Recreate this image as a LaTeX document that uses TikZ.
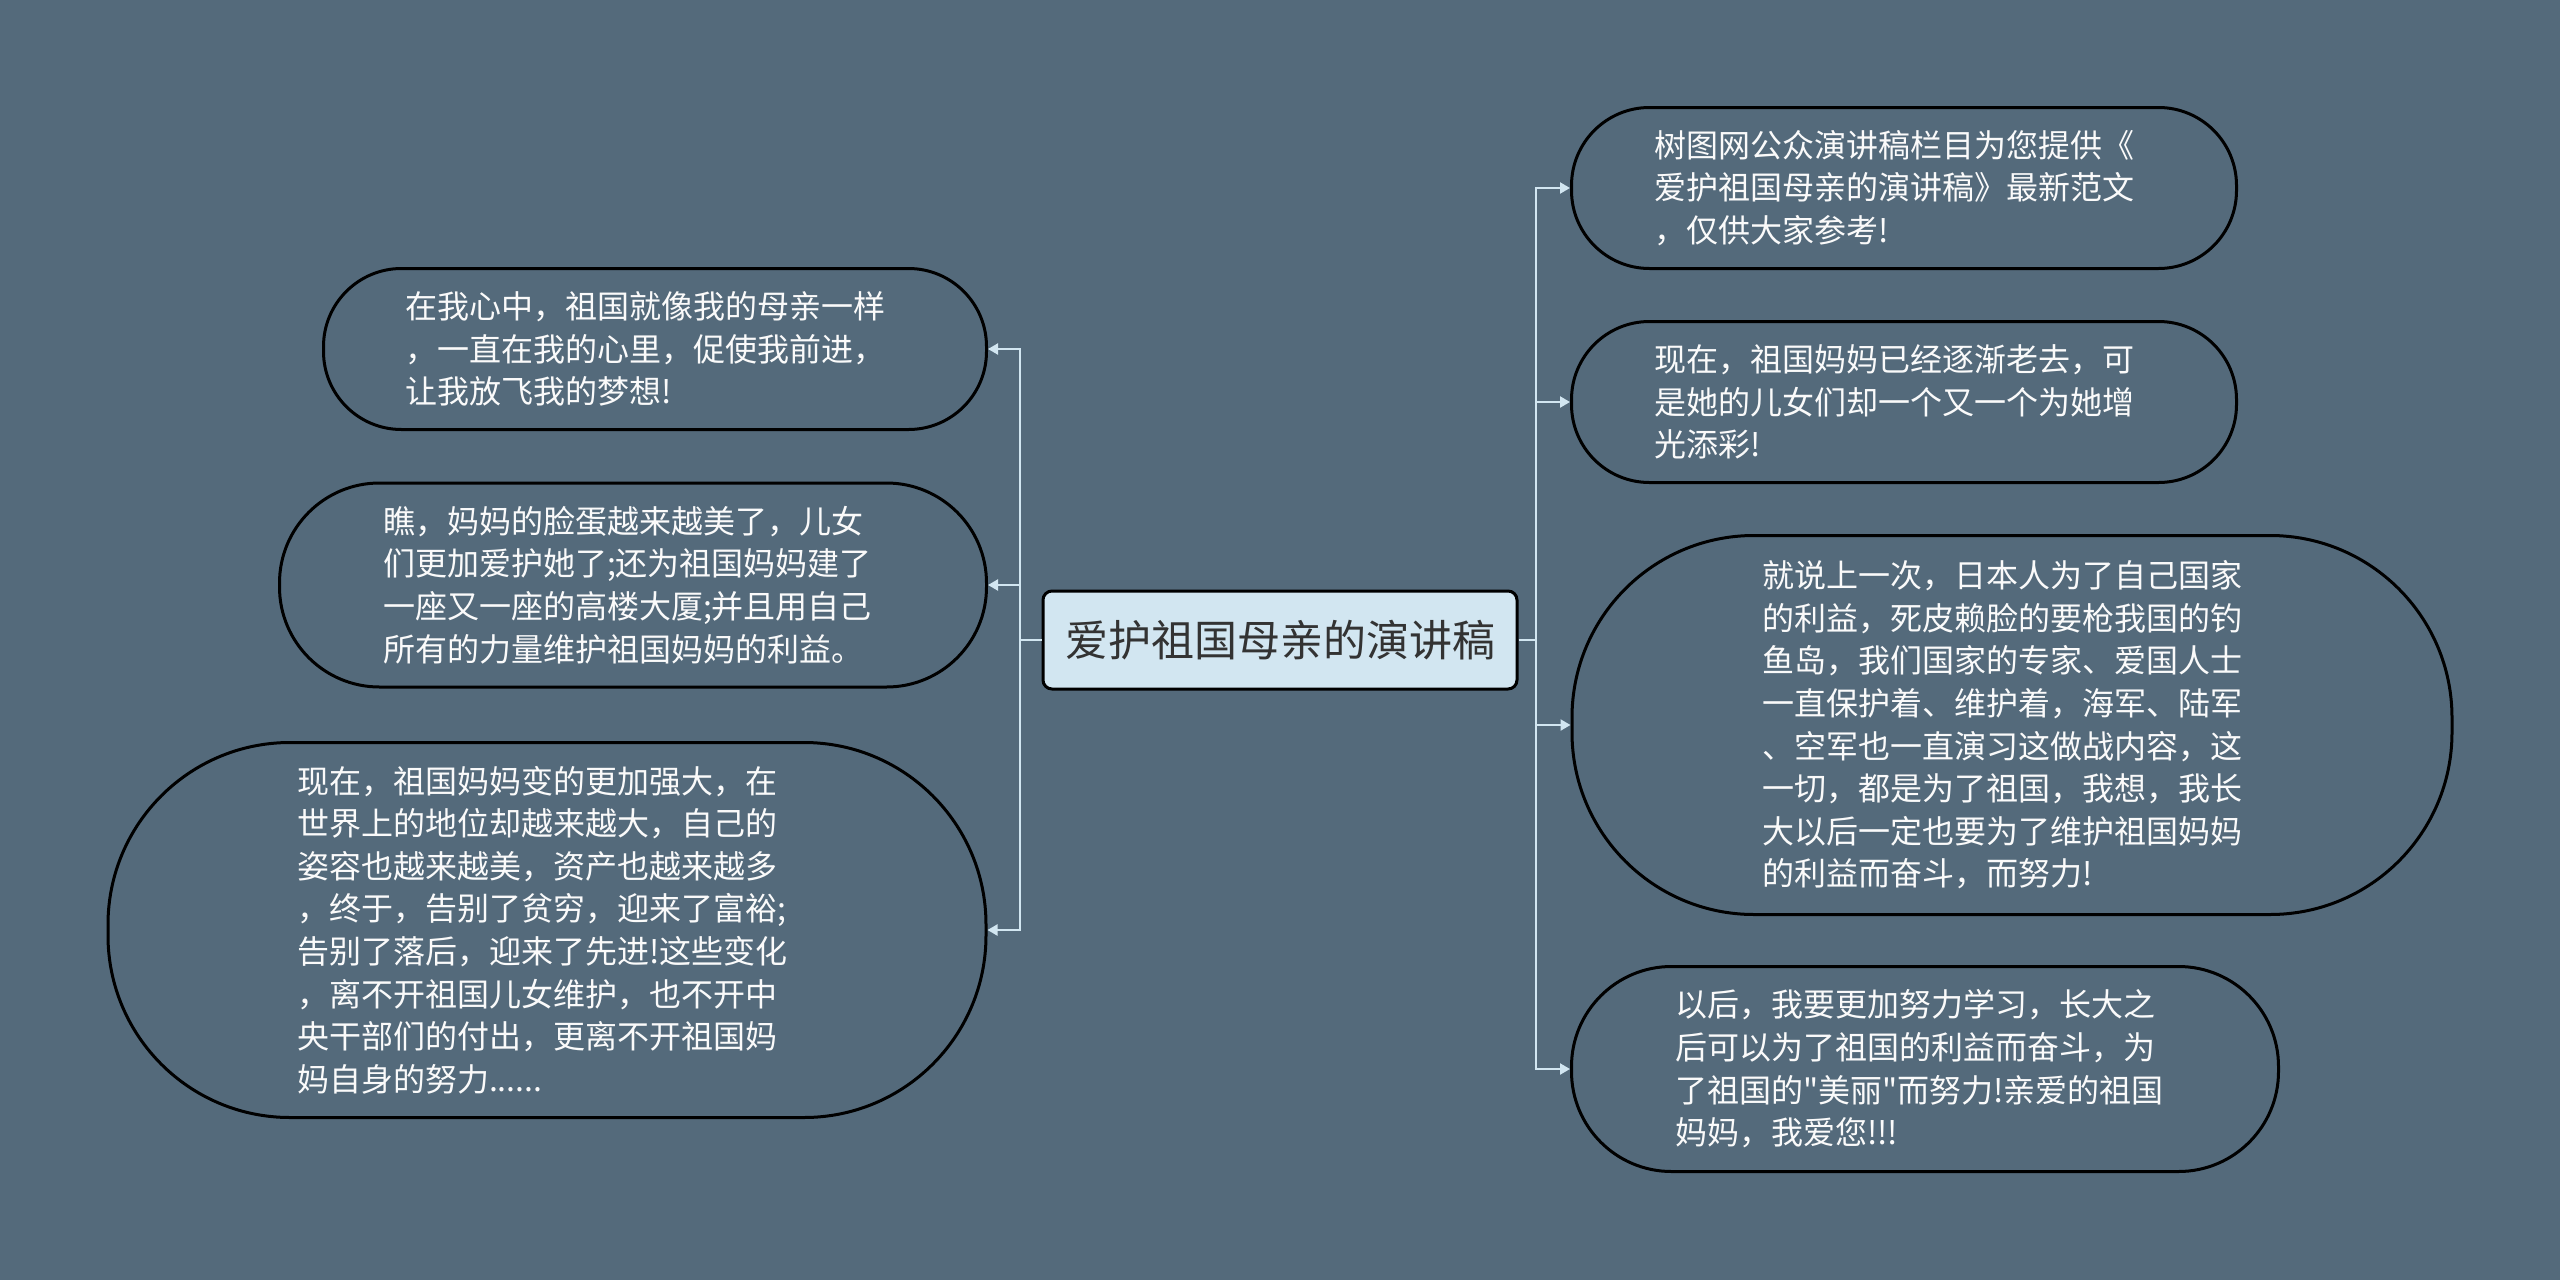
\documentclass[tikz,border=0pt]{standalone}
\usepackage{fontspec}
\setmainfont{Noto Sans CJK SC}[Ligatures=TeXOff]
\usetikzlibrary{arrows.meta}
\definecolor{bg}{HTML}{546A7B}
\definecolor{rootfill}{HTML}{D2E6F1}
\definecolor{link}{HTML}{D2E6F1}
\definecolor{txt}{HTML}{FAFAFA}
\tikzset{
  leaf/.style={draw=black, line width=3pt, fill=bg, text=txt, inner sep=0pt,
    align=left, text width=500pt, font=\fontsize{32}{42.6}\selectfont},
  rootbox/.style={draw=black, line width=3pt, fill=rootfill, text=black!80, inner sep=0pt,
    rounded corners=9pt, minimum width=474pt, minimum height=98pt,
    font=\fontsize{43}{50}\selectfont},
  conn/.style={draw=link, line width=2.2pt, -{Triangle[length=10pt,width=11pt]}},
  connplain/.style={draw=link, line width=2.2pt},
}
\begin{document}
\begin{tikzpicture}[x=1pt,y=-1pt]
\fill[bg] (0,0) rectangle (2560,1280);
\useasboundingbox (0,0) rectangle (2560,1280);

\node[rootbox] (root) at (1280,640) {爱护祖国母亲的演讲稿};

\node[leaf, minimum width=665pt, minimum height=161pt, rounded corners=78pt] (r1) at (1904,188)
 {树图网公众演讲稿栏目为您提供《\\爱护祖国母亲的演讲稿》最新范文\\，仅供大家参考!};
\node[leaf, minimum width=665pt, minimum height=161pt, rounded corners=78pt] (r2) at (1904,402)
 {现在，祖国妈妈已经逐渐老去，可\\是她的儿女们却一个又一个为她增\\光添彩!};
\node[leaf, minimum width=880pt, minimum height=379pt, rounded corners=182pt] (r3) at (2012,725)
 {就说上一次，日本人为了自己国家\\的利益，死皮赖脸的要枪我国的钓\\鱼岛，我们国家的专家、爱国人士\\一直保护着、维护着，海军、陆军\\、空军也一直演习这做战内容，这\\一切，都是为了祖国，我想，我长\\大以后一定也要为了维护祖国妈妈\\的利益而奋斗，而努力!};
\node[leaf, minimum width=707pt, minimum height=205pt, rounded corners=100pt] (r4) at (1925,1069)
 {以后，我要更加努力学习，长大之\\后可以为了祖国的利益而奋斗，为\\了祖国的"美丽"而努力!亲爱的祖国\\妈妈，我爱您!!!};

\node[leaf, minimum width=663pt, minimum height=161pt, rounded corners=78pt] (l1) at (655,349)
 {在我心中，祖国就像我的母亲一样\\，一直在我的心里，促使我前进，\\让我放飞我的梦想!};
\node[leaf, minimum width=707pt, minimum height=204pt, rounded corners=100pt] (l2) at (633,585)
 {瞧，妈妈的脸蛋越来越美了，儿女\\们更加爱护她了;还为祖国妈妈建了\\一座又一座的高楼大厦;并且用自己\\所有的力量维护祖国妈妈的利益。};
\node[leaf, minimum width=878pt, minimum height=375pt, rounded corners=182pt] (l3) at (547,930)
 {现在，祖国妈妈变的更加强大，在\\世界上的地位却越来越大，自己的\\姿容也越来越美，资产也越来越多\\，终于，告别了贫穷，迎来了富裕;\\告别了落后，迎来了先进!这些变化\\，离不开祖国儿女维护，也不开中\\央干部们的付出，更离不开祖国妈\\妈自身的努力......};

\coordinate (rt) at (1536,640);
\coordinate (lt) at (1020,640);
\draw[connplain] (root.east) -- (rt);
\draw[connplain] (root.west) -- (lt);
\foreach \n in {r1,r2,r3,r4} \draw[conn] (rt) |- (\n.west);
\foreach \n in {l1,l2,l3} \draw[conn] (lt) |- (\n.east);
\end{tikzpicture}
\end{document}
